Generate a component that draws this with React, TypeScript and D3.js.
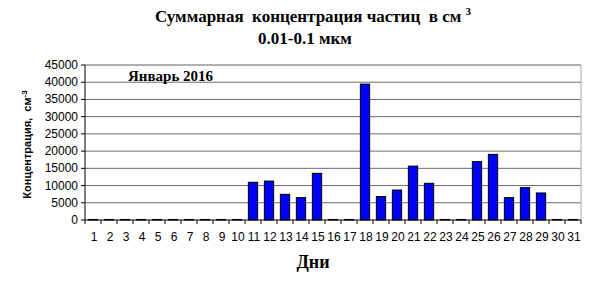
import React from "react";
import * as d3 from "d3";

const days: string[] = Array.from({ length: 31 }, (_, i) => String(i + 1));
const values: number[] = [
  150, 150, 150, 150, 150, 150, 150, 150, 150, 150,
  10950, 11300, 7450, 6500, 13550, 150, 150, 39450, 6800, 8700,
  15650, 10650, 150, 150, 16950, 19050, 6500, 9400, 7850, 150, 150,
];
const yTicks: number[] = [0, 5000, 10000, 15000, 20000, 25000, 30000, 35000, 40000, 45000];

const W = 605, H = 284;
const L = 85, R = 581, T = 65, B = 220;

export default function App() {
  const x = d3.scaleBand<string>().domain(days).range([L, R]).paddingInner(0.42).paddingOuter(0.21);
  const xb = d3.scaleBand<string>().domain(days).range([L, R]);
  const y = d3.scaleLinear().domain([0, 45000]).range([B, T]);
  return (
    <svg width={W} height={H} style={{ position: "absolute", left: 0, top: 0, background: "#fff", whiteSpace: "pre" }}>
      <text x={313} y={22} textAnchor="middle" fontFamily="Liberation Serif, Times New Roman, serif" fontWeight="bold" fontSize={17} style={{ whiteSpace: "pre" }}>
        {"Суммарная  концентрация частиц  в см "}<tspan fontSize={11} dy={-7}>3</tspan>
      </text>
      <text x={305} y={44} textAnchor="middle" fontFamily="Liberation Serif, Times New Roman, serif" fontWeight="bold" fontSize={17}>
        0.01-0.1 мкм
      </text>
      {yTicks.slice(1).map((t) => (
        <line key={t} x1={L} x2={R} y1={y(t)} y2={y(t)} stroke="#6e6e6e" strokeWidth={1} />
      ))}
      <line x1={L} x2={R} y1={T} y2={T} stroke="#a8a8a8" />
      <line x1={R} x2={R} y1={T} y2={B} stroke="#a8a8a8" />
      {values.map((v, i) => (
        <rect key={i} x={x(days[i])!} y={y(v)} width={x.bandwidth()} height={B - y(v)} fill="#0000ff" stroke="#000" strokeWidth={1} />
      ))}
      <line x1={L} x2={L} y1={T} y2={B} stroke="#000" />
      <line x1={L} x2={R} y1={B} y2={B} stroke="#000" />
      {yTicks.map((t) => (
        <g key={t}>
          <line x1={L - 4} x2={L} y1={y(t)} y2={y(t)} stroke="#000" />
          <text x={L - 7} y={y(t) + 4} textAnchor="end" fontFamily="Liberation Sans, Arial, sans-serif" fontSize={12}>{t}</text>
        </g>
      ))}
      {days.map((d) => (
        <line key={"t" + d} x1={xb(d)!} x2={xb(d)!} y1={B} y2={B + 4} stroke="#000" />
      ))}
      <line x1={R} x2={R} y1={B} y2={B + 4} stroke="#000" />
      {days.map((d) => (
        <text key={"l" + d} x={xb(d)! + xb.bandwidth() / 2 + 1} y={241} textAnchor="middle" fontFamily="Liberation Sans, Arial, sans-serif" fontSize={12}>{d}</text>
      ))}
      <text transform={`translate(31,${(T + B) / 2 + 2}) rotate(-90)`} textAnchor="middle" fontFamily="Liberation Sans, Arial, sans-serif" fontWeight="bold" fontSize={11} style={{ whiteSpace: "pre" }}>
        {"Концентрация,  см"}<tspan fontSize={8} dy={-4}>-3</tspan>
      </text>
      <text x={128} y={81} fontFamily="Liberation Serif, Times New Roman, serif" fontWeight="bold" fontSize={15}>Январь 2016</text>
      <text x={313} y={268} textAnchor="middle" fontFamily="Liberation Serif, Times New Roman, serif" fontWeight="bold" fontSize={18}>Дни</text>
    </svg>
  );
}
